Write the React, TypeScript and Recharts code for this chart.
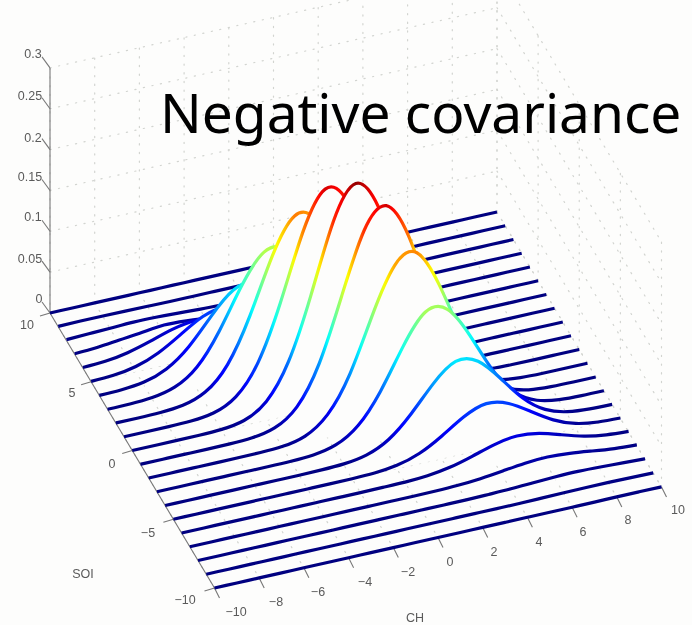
import { Area, ComposedChart, Line, ReferenceDot, XAxis, YAxis } from 'recharts';

// CH values along each slice
const chValues = [-10, -9, -8, -7, -6, -5, -4, -3, -2, -1, 0, 1, 2, 3, 4, 5, 6, 7, 8, 9, 10];

// Density, one row per SOI value (back to front)
const soi10 = [0, 0, 0, 0, 0, 0, 0, 0, 0, 0, 0, 0, 0, 0, 0, 0, 0, 0, 0, 0, 0];
const soi9 = [0.0005, 0.0008, 0.0008, 0.0006, 0.0003, 0, 0, 0, 0, 0, 0, 0, 0, 0, 0, 0, 0, 0, 0, 0, 0];
const soi8 = [0.001, 0.002, 0.003, 0.004, 0.0037, 0.0026, 0.0013, 0.0005, 0, 0, 0, 0, 0, 0, 0, 0, 0, 0, 0, 0, 0];
const soi7 = [0.0006, 0.002, 0.005, 0.008, 0.011, 0.01, 0.0075, 0.004, 0.0016, 0.0005, 0, 0, 0, 0, 0, 0, 0, 0, 0, 0, 0];
const soi6 = [0.0006, 0.002, 0.0064, 0.014, 0.0225, 0.027, 0.024, 0.016, 0.0077, 0.0028, 0.0007, 0, 0, 0, 0, 0, 0, 0, 0, 0, 0];
const soi5 = [0.0004, 0.0017, 0.0063, 0.0167, 0.033, 0.049, 0.054, 0.0436, 0.026, 0.0117, 0.0039, 0.001, 0, 0, 0, 0, 0, 0, 0, 0, 0];
const soi4 = [0.0001, 0.0009, 0.0041, 0.014, 0.035, 0.066, 0.092, 0.095, 0.072, 0.041, 0.017, 0.0054, 0.0013, 0.0002, 0, 0, 0, 0, 0, 0, 0];
const soi3 = [0, 0.0003, 0.002, 0.0085, 0.027, 0.065, 0.114, 0.149, 0.145, 0.104, 0.056, 0.022, 0.0065, 0.0014, 0.0002, 0, 0, 0, 0, 0, 0];
const soi2 = [0, 0, 0.0005, 0.0031, 0.0131, 0.0406, 0.094, 0.161, 0.204, 0.192, 0.135, 0.07, 0.027, 0.0076, 0.0016, 0.0002, 0, 0, 0, 0, 0];
const soi1 = [0, 0, 0.0001, 0.0008, 0.0044, 0.018, 0.054, 0.121, 0.201, 0.2475, 0.226, 0.154, 0.077, 0.029, 0.008, 0.0016, 0.0002, 0, 0, 0, 0];
const soi0 = [0, 0, 0, 0.0002, 0.0011, 0.0058, 0.023, 0.066, 0.141, 0.225, 0.265, 0.231, 0.151, 0.072, 0.026, 0.0068, 0.0013, 0.0002, 0, 0, 0];
const soiM1 = [0, 0, 0, 0, 0.0002, 0.0015, 0.0074, 0.027, 0.074, 0.15, 0.224, 0.2485, 0.205, 0.125, 0.057, 0.019, 0.0048, 0.0009, 0.0001, 0, 0];
const soiM2 = [0, 0, 0, 0, 0, 0.0003, 0.0017, 0.0081, 0.0281, 0.0715, 0.137, 0.192, 0.2015, 0.156, 0.09, 0.0382, 0.0121, 0.0029, 0.0005, 0, 0];
const soiM3 = [0, 0, 0, 0, 0, 0, 0.0003, 0.0018, 0.0078, 0.0254, 0.061, 0.109, 0.1455, 0.143, 0.105, 0.057, 0.023, 0.0069, 0.0015, 0.0002, 0];
const soiM4 = [0, 0, 0, 0, 0, 0, 0, 0.0003, 0.0015, 0.0061, 0.019, 0.044, 0.075, 0.096, 0.09, 0.063, 0.0327, 0.0126, 0.0036, 0.0008, 0.0001];
const soiM5 = [0, 0, 0, 0, 0, 0, 0, 0, 0.0002, 0.001, 0.0042, 0.0125, 0.0275, 0.045, 0.055, 0.049, 0.033, 0.0166, 0.006, 0.0016, 0.0003];
const soiM6 = [0, 0, 0, 0, 0, 0, 0, 0, 0, 0.0002, 0.0005, 0.0021, 0.0062, 0.0135, 0.0217, 0.026, 0.023, 0.0152, 0.0074, 0.0027, 0.0007];
const soiM7 = [0, 0, 0, 0, 0, 0, 0, 0, 0, 0, 0, 0.0003, 0.0011, 0.003, 0.0062, 0.0096, 0.011, 0.0093, 0.0059, 0.0027, 0.001];
const soiM8 = [0, 0, 0, 0, 0, 0, 0, 0, 0, 0, 0, 0, 0, 0.0005, 0.0012, 0.0025, 0.0036, 0.004, 0.0032, 0.002, 0.0009];
const soiM9 = [0, 0, 0, 0, 0, 0, 0, 0, 0, 0, 0, 0, 0, 0, 0, 0.0004, 0.0008, 0.0011, 0.0012, 0.0009, 0.0005];
const soiM10 = [0, 0, 0, 0, 0, 0, 0, 0, 0, 0, 0, 0, 0, 0, 0, 0, 0, 0, 0.0003, 0.0003, 0.0002];

const slices = [
  soi10, soi9, soi8, soi7, soi6, soi5, soi4, soi3, soi2, soi1, soi0,
  soiM1, soiM2, soiM3, soiM4, soiM5, soiM6, soiM7, soiM8, soiM9, soiM10,
];
const soiValues = [10, 9, 8, 7, 6, 5, 4, 3, 2, 1, 0, -1, -2, -3, -4, -5, -6, -7, -8, -9, -10];

const zTicks = [0, 0.05, 0.1, 0.15, 0.2, 0.25, 0.3];
const chTicks = [-10, -8, -6, -4, -2, 0, 2, 4, 6, 8, 10];
const soiTicks = [-10, -5, 0, 5, 10];

// tick labels and where they sit on the page
const zLabels = [
  { text: '0', x: 39, y: 299 },
  { text: '0.05', x: 30, y: 259 },
  { text: '0.1', x: 33, y: 217 },
  { text: '0.15', x: 30, y: 177 },
  { text: '0.2', x: 33, y: 138 },
  { text: '0.25', x: 30, y: 96 },
  { text: '0.3', x: 33, y: 54 },
];
const soiLabels = [
  { text: '10', x: 27, y: 325 },
  { text: '5', x: 72, y: 393 },
  { text: '0', x: 112, y: 464 },
  { text: '\u22125', x: 148, y: 533 },
  { text: '\u221210', x: 185, y: 600 },
];
const chLabels = [
  { text: '\u221210', x: 236, y: 612 },
  { text: '\u22128', x: 276, y: 602 },
  { text: '\u22126', x: 318, y: 592 },
  { text: '\u22124', x: 365, y: 582 },
  { text: '\u22122', x: 408, y: 572 },
  { text: '0', x: 450, y: 562 },
  { text: '2', x: 494, y: 552 },
  { text: '4', x: 539, y: 542 },
  { text: '6', x: 583, y: 532 },
  { text: '8', x: 628, y: 520 },
  { text: '10', x: 678, y: 510 },
];
const axisTitles = [
  { text: 'SOI', x: 83, y: 574 },
  { text: 'CH', x: 415, y: 618 },
];

// parallel projection of the 3D axes onto the page
const projX = (ch: number, soi: number) => 50 + ((ch + 10) / 20) * 447 + ((10 - soi) / 20) * 164.5;
const projY = (ch: number, soi: number, z: number) =>
  313 - ((ch + 10) / 20) * 101 + ((10 - soi) / 20) * 275 - z * 817;

const seg = (ch1: number, soi1: number, z1: number, ch2: number, soi2: number, z2: number) => [
  { x: projX(ch1, soi1), y: projY(ch1, soi1, z1) },
  { x: projX(ch2, soi2), y: projY(ch2, soi2, z2) },
];

// walls and floor
const gridLines = [
  ...zTicks.map((z) => seg(-10, 10, z, 10, 10, z)),
  ...zTicks.map((z) => seg(10, 10, z, 10, -10, z)),
  ...chTicks.map((c) => seg(c, 10, 0, c, 10, 0.3)),
  ...soiTicks.map((s) => seg(10, s, 0, 10, s, 0.3)),
  ...chTicks.map((c) => seg(c, 10, 0, c, -10, 0)),
  ...soiTicks.map((s) => seg(-10, s, 0, 10, s, 0)),
];

// short tick marks
const zTickMarks = zTicks.map((z) => {
  const y = projY(-10, 10, z);
  return [{ x: 50, y }, { x: 42, y: y - 11 }];
});
const soiTickMarks = soiTicks.map((s) => {
  const x = projX(-10, s);
  const y = projY(-10, s, 0);
  return [{ x, y }, { x: x - 10, y: y + 3 }];
});
const chTickMarks = chTicks.map((c) => {
  const x = projX(c, -10);
  const y = projY(c, -10, 0);
  return [{ x, y }, { x: x + 5, y: y + 10 }];
});

const axisLines = [seg(-10, 10, 0, -10, 10, 0.3), seg(-10, 10, 0, -10, -10, 0)];

const sliceData = slices.map((zs, i) =>
  zs.map((z, j) => ({
    x: projX(chValues[j], soiValues[i]),
    y: projY(chValues[j], soiValues[i], z),
    base: projY(chValues[j], soiValues[i], 0),
  })),
);

// MATLAB jet colormap
function jet(t: number) {
  const ch = (v: number) => Math.round(255 * Math.max(0, Math.min(1, v)));
  const r = ch(Math.min(4 * t - 1.5, -4 * t + 4.5));
  const g = ch(Math.min(4 * t - 0.5, -4 * t + 3.5));
  const b = ch(Math.min(4 * t + 0.5, -4 * t + 2.5));
  return `rgb(${r},${g},${b})`;
}

// extra stops between grid points so the gradient keeps the colormap's hues
function sliceStops(zs: number[]) {
  const stops: { offset: number; color: string }[] = [];
  zs.forEach((v, j) => {
    const next = j < zs.length - 1 ? zs[j + 1] : v;
    for (let k = 0; k < 8; k++) {
      stops.push({ offset: (j + k / 8) / 20, color: jet((v + ((next - v) * k) / 8) / 0.27) });
    }
  });
  return stops;
}

const labelFont = 'Liberation Sans, sans-serif';
const paper = '#fdfdfc';

export default function App() {
  const textDots = [...zLabels, ...soiLabels, ...chLabels, ...axisTitles];
  let z = 10;
  return (
    <div style={{ position: 'absolute', left: 0, top: 0, width: 692, height: 625, background: paper }}>
      <div style={{ filter: 'blur(0.55px)' }}>
        <ComposedChart width={692} height={625} margin={{ top: 0, right: 0, bottom: 0, left: 0 }}>
          <defs>
            {slices.map((zs, i) => (
              <linearGradient key={i} id={`slice-${i}`} x1="0" y1="0" x2="1" y2="0">
                {sliceStops(zs).map((s, j) => (
                  <stop key={j} offset={s.offset} stopColor={s.color} />
                ))}
              </linearGradient>
            ))}
          </defs>
          <XAxis type="number" dataKey="x" domain={[0, 692]} hide allowDataOverflow />
          <YAxis type="number" domain={[0, 625]} reversed hide allowDataOverflow />

          {gridLines.map((d, i) => (
            <Line
              key={`grid-${i}`}
              data={d}
              dataKey="y"
              stroke="#d2d4d0"
              strokeWidth={1.2}
              strokeDasharray="1.2 7.5"
              strokeLinecap="round"
              dot={false}
              activeDot={false}
              legendType="none"
              isAnimationActive={false}
              zIndex={z++}
            />
          ))}
          {[...zTickMarks, ...soiTickMarks, ...chTickMarks, ...axisLines].map((d, i) => (
            <Line
              key={`axis-${i}`}
              data={d}
              dataKey="y"
              stroke="#777"
              strokeWidth={1.1}
              dot={false}
              activeDot={false}
              isAnimationActive={false}
              zIndex={z++}
            />
          ))}

          {/* back to front, a white area under each slice hides what lies behind it */}
          {sliceData.flatMap((d, i) => [
            <Area
              key={`mask-${i}`}
              data={d}
              type="natural"
              dataKey={(p: { base: number; y: number }) => [p.base, p.y]}
              stroke="none"
              fill={paper}
              fillOpacity={1}
              dot={false}
              activeDot={false}
              isAnimationActive={false}
              zIndex={z++}
            />,
            <Line
              key={`slice-${i}`}
              data={d}
              type="natural"
              dataKey="y"
              stroke={`url(#slice-${i})`}
              strokeWidth={3.2}
              dot={false}
              activeDot={false}
              isAnimationActive={false}
              zIndex={z++}
            />,
          ])}

          {textDots.map((t, i) => (
            <ReferenceDot
              key={`tick-${i}`}
              x={t.x}
              y={t.y}
              r={0}
              stroke="none"
              zIndex={5000}
              label={{ value: t.text, position: 'center', fontSize: 12.5, fill: '#5a5a5a', fontFamily: labelFont }}
            />
          ))}
        </ComposedChart>
      </div>
      <div
        style={{
          position: 'absolute',
          left: 160,
          top: 74,
          fontFamily: 'Noto Sans, sans-serif',
          fontSize: 55,
          lineHeight: '75px',
          color: '#000',
          whiteSpace: 'nowrap',
        }}
      >
        Negative covariance
      </div>
    </div>
  );
}
